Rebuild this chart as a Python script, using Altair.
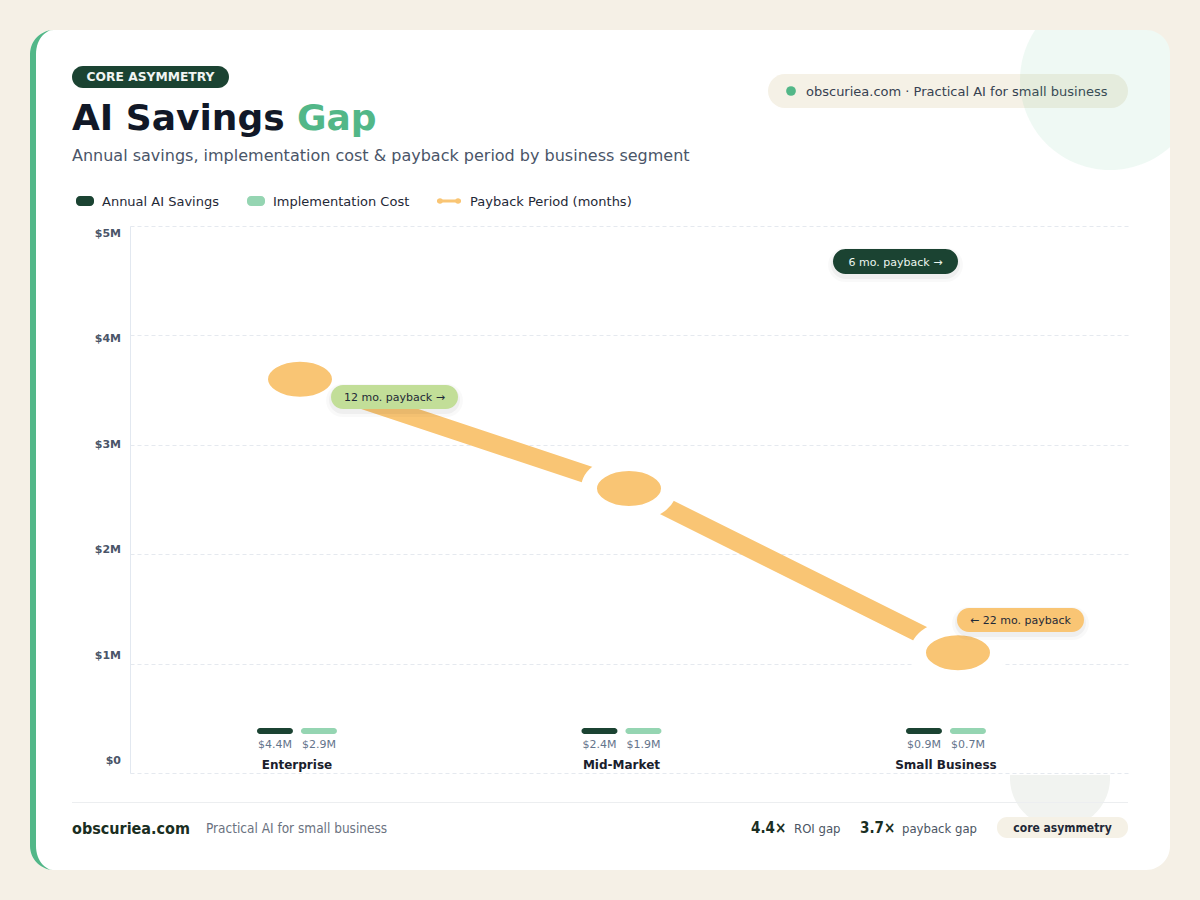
import math
import altair as alt
import pandas as pd

# ---------------- data ----------------
segments = ["Enterprise", "Mid-Market", "Small Business"]
savings = [4.4, 2.4, 0.9]            # Annual AI Savings ($M)
impl_cost = [2.9, 1.9, 0.7]          # Implementation Cost ($M)
payback_line = [3.6, 2.6, 1.1]       # payback line as plotted on the $M axis
payback_notes = ["12 mo. payback →", "6 mo. payback  →", "← 22 mo. payback"]
series_names = ["Annual AI Savings", "Implementation Cost", "Payback Period (months)"]
y_ticks = [0, 1, 2, 3, 4, 5]
y_tick_labels = ["$0", "$1M", "$2M", "$3M", "$4M", "$5M"]
footer_stats = [("4.4×", "ROI gap"), ("3.7×", "payback gap")]

# ---------------- style ----------------
DARK = "#1b4332"
LIGHT = "#95d5b2"
GREEN = "#52b788"
ORANGE = "#f9c574"
CREAM = "#f5f0e6"
PILL = "#f5f1e6"
FONT = "DejaVu Sans"
COND = "'DejaVu Sans Condensed', 'Liberation Sans Narrow', 'DejaVu Sans', sans-serif"

W, H = 1200, 900
L, T, R, B = 130, 226, 1128, 773
PW, PH = R - L, B - T


def X(x):
    return x - L


def Y(y):
    return y - T


base = alt.Chart(pd.DataFrame({"k": [0]}))


def text(x, y, s, size=13, color="#1f2937", weight="normal", align="left",
         baseline="alphabetic", font=FONT):
    return base.mark_text(align=align, baseline=baseline, fontSize=size, font=font,
                          fontWeight=weight, color=color).encode(
        x=alt.value(X(x)), y=alt.value(Y(y)), text=alt.value(s))


def rrect(x1, y1, x2, y2, fill, r=0, opacity=1.0):
    return base.mark_rect(cornerRadius=r, color=fill, opacity=opacity).encode(
        x=alt.value(X(x1)), x2=alt.value(X(x2)), y=alt.value(Y(y1)), y2=alt.value(Y(y2)))


def pts_to_path(polys):
    out = []
    for poly in polys:
        p = poly[0]
        seg = [f"M{X(p[0]):.2f},{Y(p[1]):.2f}"]
        for q in poly[1:]:
            seg.append(f"L{X(q[0]):.2f},{Y(q[1]):.2f}")
        seg.append("Z")
        out.append(" ".join(seg))
    return " ".join(out)


def shape(polys, fill, opacity=1.0):
    # custom symbol path, size=4 -> 1 path unit == 1 pixel
    return base.mark_point(shape=pts_to_path(polys), size=4, filled=True, fill=fill,
                           opacity=opacity, strokeWidth=0).encode(
        x=alt.value(0), y=alt.value(0))


def rounded_rect_pts(x1, y1, x2, y2, r, n=14):
    pts = []
    corners = [(x2 - r, y1 + r, -90, 0), (x2 - r, y2 - r, 0, 90),
               (x1 + r, y2 - r, 90, 180), (x1 + r, y1 + r, 180, 270)]
    for cx, cy, a0, a1 in corners:
        for i in range(n + 1):
            a = math.radians(a0 + (a1 - a0) * i / n)
            pts.append((cx + r * math.cos(a), cy + r * math.sin(a)))
    return pts


def arc_pts(cx, cy, rx, ry, a0, a1, n=14):
    return [(cx + rx * math.cos(math.radians(a0 + (a1 - a0) * i / n)),
             cy + ry * math.sin(math.radians(a0 + (a1 - a0) * i / n))) for i in range(n + 1)]


def circle_pts(cx, cy, r, n=120, ymin=None):
    pts = []
    for i in range(n):
        a = 2 * math.pi * i / n
        px, py = cx + r * math.cos(a), cy + r * math.sin(a)
        if ymin is not None:
            py = max(py, ymin)
        pts.append((px, py))
    return pts


# ---------------- card / decoration ----------------
CX1, CY1, CX2, CY2, CR = 30, 30, 1170, 870, 24
frame_outer = [(0, 0), (W, 0), (W, H), (0, H)]
frame_inner = list(reversed(rounded_rect_pts(CX1, CY1, CX2, CY2, CR)))
frame = shape([frame_outer, frame_inner], CREAM)

stripe_pts = (arc_pts(54, 54, 24, 24, 270, 180) + arc_pts(54, 846, 24, 24, 180, 90)
              + arc_pts(54, 846, 18, 24, 90, 180) + arc_pts(54, 54, 18, 24, 180, 270))
stripe = shape([stripe_pts], GREEN)

deco_circle = shape([circle_pts(1110, 80, 90)], GREEN, opacity=0.09)
deco_circle2 = shape([circle_pts(1060, 778, 50, ymin=775)], "#f1f3f0")

top_pill = [
    rrect(768, 74, 1128, 108, PILL, r=17),
    base.mark_circle(size=95, color=GREEN, opacity=1).encode(x=alt.value(X(791)), y=alt.value(Y(91))),
    text(806, 95.7, "obscuriea.com · Practical AI for small business", size=13, color="#374151"),
]

header = [
    rrect(72, 66, 229, 88, DARK, r=11),
    text(150.5, 81, "CORE ASYMMETRY", size=12.3, color="#f1f5f2", weight="bold", align="center"),
    text(72, 130, "AI Savings ", size=36, color="#111827", weight="bold"),
    text(297, 130, "Gap", size=36, color=GREEN, weight="bold"),
    text(72, 161, "Annual savings, implementation cost & payback period by business segment",
         size=16, color="#4a5568"),
]

legend = [
    rrect(76, 196, 94, 206, DARK, r=4),
    text(102, 205.7, series_names[0], size=13, color="#1f2937"),
    rrect(247, 196, 265, 206, LIGHT, r=4),
    text(273, 205.7, series_names[1], size=13, color="#1f2937"),
    rrect(437, 199.5, 461, 202.5, ORANGE, r=1),
    base.mark_circle(size=30, color=ORANGE, opacity=1).encode(x=alt.value(X(440)), y=alt.value(Y(201))),
    base.mark_circle(size=30, color=ORANGE, opacity=1).encode(x=alt.value(X(458)), y=alt.value(Y(201))),
    text(470, 205.7, series_names[2], size=13, color="#1f2937"),
]

footer = [
    rrect(72, 802, 1128, 803, "#eceef0"),
    text(72, 833.5, "obscuriea.com", size=16, color="#1a2e22", weight="bold", font=COND),
    text(206, 832.5, "Practical AI for small business", size=13.5, color="#6b7280", font=COND),
    text(751, 833, footer_stats[0][0], size=15, color="#1a2e22", weight="bold", font=COND),
    text(794, 832.5, footer_stats[0][1], size=13, color="#4b5563", font=COND),
    text(860, 833, footer_stats[1][0], size=15, color="#1a2e22", weight="bold", font=COND),
    text(902, 832.5, footer_stats[1][1], size=13, color="#4b5563", font=COND),
    rrect(997, 817, 1128, 838, PILL, r=10),
    text(1062.5, 832, "core asymmetry", size=12, color="#1f2937", weight="bold", font=COND, align="center"),
]

# ---------------- data layers ----------------
bar_df = pd.DataFrame({
    "segment": segments * 2,
    "series": [series_names[0]] * 3 + [series_names[1]] * 3,
    "value": savings + impl_cost,
})
bar_df["label"] = bar_df["value"].map(lambda v: f"${v:.1f}M")
cat_df = pd.DataFrame({"segment": segments})

xband = alt.X("segment:N", sort=segments, axis=None,
              scale=alt.Scale(paddingInner=0.7535, paddingOuter=0.4145, align=0.472))
xoff = alt.XOffset("series:N", sort=series_names[:2],
                   scale=alt.Scale(paddingInner=0.1818, paddingOuter=0))

bars = alt.Chart(bar_df).mark_bar(cornerRadius=3).encode(
    x=xband, xOffset=xoff,
    y=alt.value(Y(728)), y2=alt.value(Y(734)),
    color=alt.Color("series:N", scale=alt.Scale(domain=series_names[:2], range=[DARK, LIGHT]),
                    legend=None),
)
bar_labels = alt.Chart(bar_df).mark_text(fontSize=11, color="#64748b", font=FONT,
                                         baseline="alphabetic").encode(
    x=xband, xOffset=xoff, y=alt.value(Y(748)), text="label:N")
cat_labels = alt.Chart(cat_df).mark_text(fontSize=12, fontWeight="bold", color="#1a202c",
                                         font=FONT, baseline="alphabetic").encode(
    x=xband, y=alt.value(Y(768.5)), text="segment:N")
bar_group = alt.layer(bars, bar_labels, cat_labels)

line_df = pd.DataFrame({"segment": segments, "value": payback_line})
xpt = alt.X("segment:N", sort=segments, axis=None,
            scale=alt.Scale(type="point", padding=0.5167))
yq = alt.Y("value:Q", scale=alt.Scale(domain=[0, 5]),
           axis=alt.Axis(values=y_ticks, labels=False, ticks=False, title="", grid=True,
                         gridColor="#e5e9ef", gridDash=[4, 3], domainColor="#e2e8f0"))
ELLIPSE = "M-40,0 A40,25.5 0 1,0 40,0 A40,25.5 0 1,0 -40,0 Z"
line = alt.Chart(line_df).mark_line(color=ORANGE, strokeWidth=18, strokeCap="butt").encode(x=xpt, y=yq)
dots = alt.Chart(line_df).mark_point(shape=ELLIPSE, size=4, filled=True, fill=ORANGE,
                                     stroke="white", strokeWidth=16, opacity=1).encode(x=xpt, y=yq)
line_group = alt.layer(line, dots)

ylab_df = pd.DataFrame({"v": y_ticks, "lab": y_tick_labels})
ylabels = alt.Chart(ylab_df).mark_text(align="right", baseline="middle", fontSize=11,
                                       fontWeight="bold", color="#4a5568", font=FONT).encode(
    x=alt.value(X(121)),
    y=alt.Y("v:Q", scale=alt.Scale(domain=[0, 5], range=[Y(761), Y(234)]), axis=None),
    text="lab:N")


# ---------------- annotations ----------------
def pill_note(x1, y1, x2, y2, fill, label, tcolor):
    cx, cy = (x1 + x2) / 2, (y1 + y2) / 2
    r = (y2 - y1) / 2
    return [
        rrect(x1 - 5, y1 - 1, x2 + 5, y2 + 8, "#000000", r=r + 5, opacity=0.025),
        rrect(x1 - 2, y1 + 1, x2 + 2, y2 + 5, "#000000", r=r + 2, opacity=0.04),
        rrect(x1, y1, x2, y2, fill, r=r),
        text(cx, cy + 4, label, size=11, color=tcolor, align="center"),
    ]


notes = (pill_note(331, 385, 458, 409, "#c2de98", payback_notes[0], "#1f2937")
         + pill_note(833, 249, 958, 274, DARK, payback_notes[1], "#ecf6ef")
         + pill_note(957, 608, 1084, 632, ORANGE, payback_notes[2], "#1f2937"))

layers = (top_pill + [deco_circle, deco_circle2, frame, stripe] + header + legend + footer
          + [line_group, bar_group, ylabels] + notes)

chart = alt.layer(*layers).resolve_scale(x="independent", y="independent").properties(
    width=PW, height=PH,
    padding={"left": L, "top": T, "right": W - R, "bottom": H - B},
    autosize=alt.AutoSizeParams(type="none"),
    background="white",
).configure_view(strokeWidth=0)

chart.save("out.html", embed_options={"renderer": "svg", "actions": False})
